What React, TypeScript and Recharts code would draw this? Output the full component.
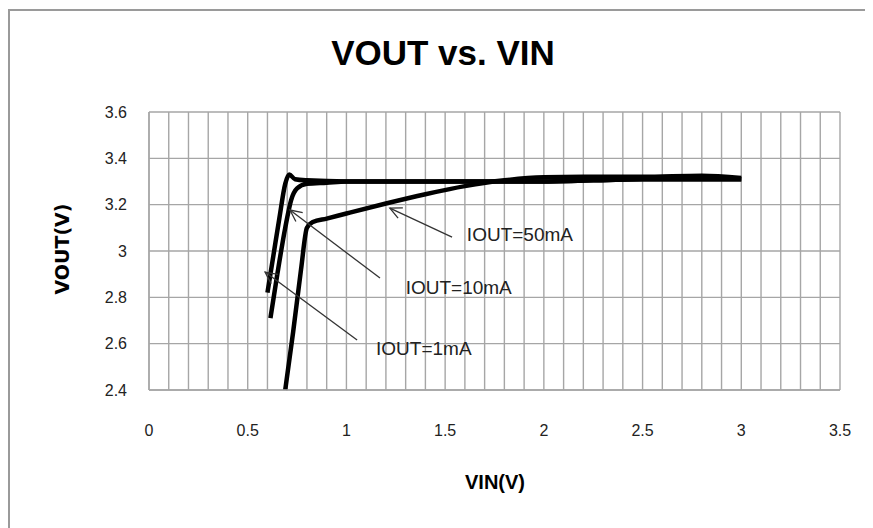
import { CartesianGrid, Line, LineChart, ReferenceDot, ReferenceLine, XAxis, YAxis } from 'recharts';

const xTicks = [
  0, 0.1, 0.2, 0.3, 0.4, 0.5, 0.6, 0.7, 0.8, 0.9, 1, 1.1, 1.2, 1.3, 1.4, 1.5, 1.6, 1.7,
  1.8, 1.9, 2, 2.1, 2.2, 2.3, 2.4, 2.5, 2.6, 2.7, 2.8, 2.9, 3, 3.1, 3.2, 3.3, 3.4, 3.5
];
const yTicks = [2.4, 2.6, 2.8, 3, 3.2, 3.4, 3.6];

const vin1mA = [0.6, 0.63, 0.66, 0.69, 0.71, 0.74, 0.8, 1.0, 1.5, 2.0, 2.5, 3.0];
const vout1mA = [2.82, 2.98, 3.14, 3.29, 3.33, 3.31, 3.305, 3.3, 3.3, 3.3, 3.31, 3.31];

const vin10mA = [0.615, 0.65, 0.69, 0.72, 0.75, 0.8, 0.9, 1.0, 1.5, 2.0, 2.5, 3.0];
const vout10mA = [2.71, 2.9, 3.1, 3.22, 3.27, 3.29, 3.295, 3.3, 3.3, 3.3, 3.31, 3.31];

const vin50mA = [0.69, 0.73, 0.77, 0.8, 0.83, 0.9, 1.0, 1.2, 1.4, 1.6, 1.8, 2.0, 2.2, 2.5, 2.8, 3.0];
const vout50mA = [2.4, 2.65, 2.92, 3.1, 3.125, 3.14, 3.162, 3.205, 3.245, 3.28, 3.305, 3.318, 3.32, 3.32, 3.325, 3.315];

// callouts: arrow tip on the curve, tail near the text
const notes = [
  { text: 'IOUT=50mA', tip: [1.22, 3.185], tail: [1.535, 3.06], at: [1.61, 3.07] },
  { text: 'IOUT=10mA', tip: [0.714, 3.177], tail: [1.17, 2.883], at: [1.3, 2.84] },
  { text: 'IOUT=1mA', tip: [0.588, 2.909], tail: [1.054, 2.616], at: [1.15, 2.575] }
];

const toPoints = (xs: number[], ys: number[]) => xs.map((x, i) => ({ x, y: ys[i] }));

const series = [
  { name: '1mA', data: toPoints(vin1mA, vout1mA) },
  { name: '10mA', data: toPoints(vin10mA, vout10mA) },
  { name: '50mA', data: toPoints(vin50mA, vout50mA) }
];

const Arrow = (props: any) => {
  const { x1, y1, x2, y2 } = props;
  // x1,y1 = tip ; x2,y2 = tail
  const ang = Math.atan2(y2 - y1, x2 - x1);
  const len = 13;
  const spread = 0.45;
  const a1x = x1 + len * Math.cos(ang - spread);
  const a1y = y1 + len * Math.sin(ang - spread);
  const a2x = x1 + len * Math.cos(ang + spread);
  const a2y = y1 + len * Math.sin(ang + spread);
  return (
    <g>
      <line x1={x1} y1={y1} x2={x2} y2={y2} stroke="#333" strokeWidth={1.3} />
      <polyline points={`${a1x},${a1y} ${x1},${y1} ${a2x},${a2y}`} fill="none" stroke="#333" strokeWidth={1.3} />
    </g>
  );
};

const fmtX = (v: number) => (Math.abs(v * 2 - Math.round(v * 2)) < 1e-6 ? String(v) : '');

export default function App() {
  return (
    <div style={{ position: 'relative', width: 865, height: 520, overflow: 'hidden', fontFamily: '"Liberation Sans", Arial, sans-serif' }}>
      <div style={{ position: 'absolute', left: 0, top: 1, width: 863, height: 519, borderLeft: '2px solid #9a9a9a', borderTop: '2px solid #9a9a9a' }} />
      <LineChart width={865} height={520} margin={{ top: 104, right: 33, left: 81, bottom: 78 }}>
        <CartesianGrid stroke="#a6a6a6" strokeWidth={1.4} />
        <XAxis
          type="number"
          dataKey="x"
          domain={[0, 3.5]}
          ticks={xTicks}
          interval={0}
          tickFormatter={fmtX}
          tickLine={false}
          tickSize={0}
          tickMargin={35}
          axisLine={{ stroke: '#a6a6a6', strokeWidth: 1.4 }}
          tick={{ fill: '#222', fontSize: 16 }}
          height={60}
          allowDuplicatedCategory={false}
        />
        <YAxis
          type="number"
          domain={[2.4, 3.6]}
          ticks={yTicks}
          interval={0}
          tickLine={false}
          tickSize={0}
          tickMargin={22}
          axisLine={{ stroke: '#a6a6a6', strokeWidth: 1.4 }}
          tick={{ fill: '#222', fontSize: 16 }}
          width={60}
        />
        {series.map((s) => (
          <Line
            key={s.name}
            data={s.data}
            dataKey="y"
            type="monotone"
            stroke="#000"
            strokeWidth={4.5}
            dot={false}
            isAnimationActive={false}
          />
        ))}
        {notes.map((n) => (
          <ReferenceLine
            key={n.text}
            segment={[{ x: n.tip[0], y: n.tip[1] }, { x: n.tail[0], y: n.tail[1] }]}
            shape={Arrow}
          />
        ))}
        {notes.map((n) => (
          <ReferenceDot
            key={n.text + 'label'}
            x={n.at[0]}
            y={n.at[1]}
            shape={(p: any) => (
              <text x={p.cx} y={p.cy} dy={6} fontSize={19} fill="#222" textAnchor="start">
                {n.text}
              </text>
            )}
          />
        ))}
      </LineChart>
      <div style={{ position: 'absolute', left: 0, width: 870, top: 25, textAlign: 'center', fontSize: 35, fontWeight: 'bold', color: '#000' }}>
        VOUT vs. VIN
      </div>
      <div style={{ position: 'absolute', left: 427, width: 120, top: 463, textAlign: 'center', fontSize: 20, fontWeight: 'bold', color: '#000' }}>
        VIN(V)
      </div>
      <div
        style={{
          position: 'absolute',
          left: 4,
          top: 230,
          width: 100,
          textAlign: 'center',
          fontSize: 19,
          fontWeight: 'bold',
          fontFamily: '"DejaVu Sans", sans-serif',
          color: '#000',
          transform: 'rotate(-90deg)'
        }}
      >
        VOUT(V)
      </div>
    </div>
  );
}
